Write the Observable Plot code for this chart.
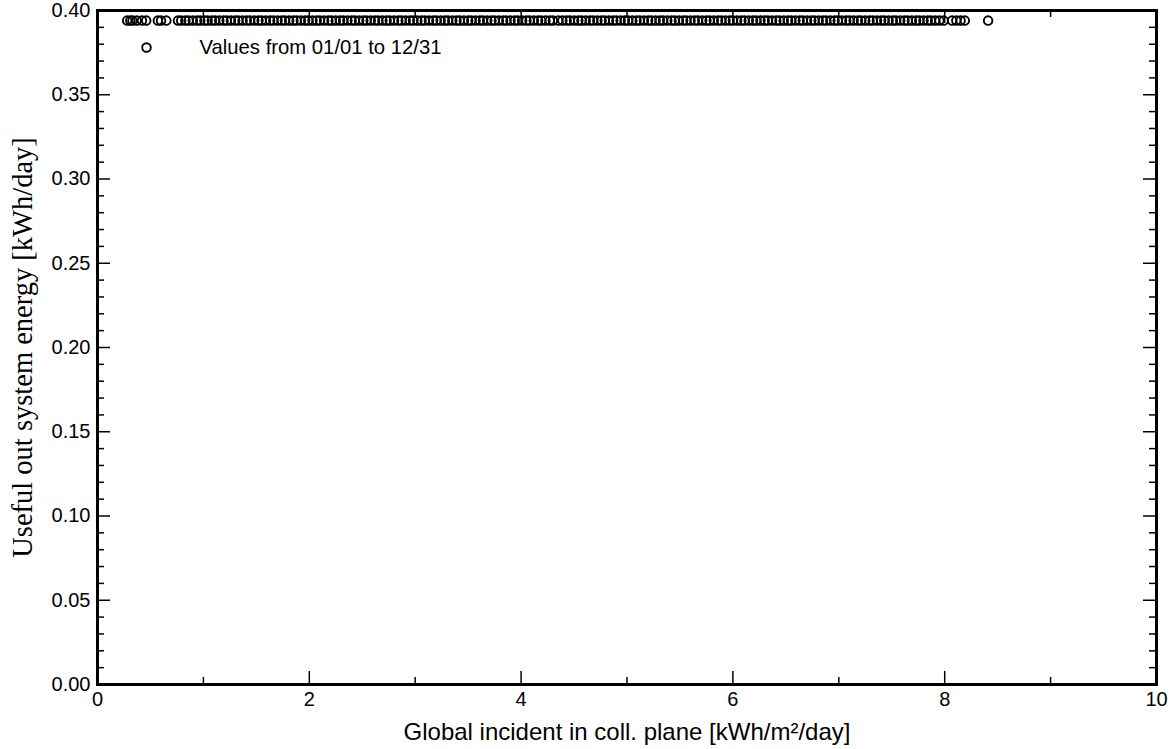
<!DOCTYPE html>
<html>
<head>
<meta charset="utf-8">
<script src="https://cdn.jsdelivr.net/npm/d3@7"></script>
<script src="https://cdn.jsdelivr.net/npm/@observablehq/plot@0.6"></script>
<style>
  html, body { margin: 0; padding: 0; background: #fff; }
  #chart svg { display: block; }
</style>
</head>
<body>
<div id="chart"></div>
<script>
// ---- data ----
const globalIncident = [
  0.28, 0.31, 0.33, 0.37, 0.42, 0.46, 0.57, 0.60, 0.65,
  0.76, 0.79, 0.83, 0.86, 0.90, 0.94, 0.97, 1.01, 1.04, 1.08, 1.11, 1.15, 1.19, 1.22, 1.26, 1.30,
  1.33, 1.37, 1.41, 1.44, 1.48, 1.52, 1.55, 1.59, 1.63, 1.66, 1.70, 1.74, 1.77, 1.81, 1.85, 1.88,
  1.92, 1.96, 1.99, 2.03, 2.07, 2.10, 2.14, 2.18, 2.21, 2.25, 2.29, 2.32, 2.36, 2.40, 2.43, 2.47,
  2.51, 2.54, 2.58, 2.62, 2.65, 2.69, 2.73, 2.76, 2.80, 2.84, 2.87, 2.91, 2.95, 2.98, 3.02, 3.06,
  3.09, 3.13, 3.17, 3.20, 3.24, 3.28, 3.31, 3.35, 3.39, 3.42, 3.46, 3.50, 3.53, 3.57, 3.61, 3.64,
  3.68, 3.72, 3.75, 3.79, 3.83, 3.86, 3.90, 3.94, 3.97, 4.01, 4.05, 4.08, 4.12, 4.16, 4.19, 4.23,
  4.27, 4.30, 4.35,
  4.39, 4.43, 4.46, 4.50, 4.54, 4.57, 4.61, 4.65, 4.68, 4.72, 4.76, 4.79, 4.83, 4.87, 4.90, 4.94,
  4.98, 5.01, 5.05, 5.09, 5.12, 5.16, 5.20, 5.23, 5.27, 5.31, 5.34, 5.38, 5.42, 5.45, 5.49, 5.53,
  5.56, 5.60, 5.64, 5.67, 5.71, 5.75, 5.78, 5.82, 5.86, 5.89, 5.93, 5.97, 6.00, 6.04, 6.08, 6.11,
  6.15, 6.19, 6.22, 6.26, 6.30, 6.33, 6.37, 6.41, 6.44, 6.48, 6.52, 6.55, 6.59, 6.63, 6.66, 6.70,
  6.74, 6.77, 6.81, 6.85, 6.88, 6.92, 6.96, 6.99, 7.03, 7.07, 7.10, 7.14, 7.18, 7.21, 7.25, 7.29,
  7.32, 7.36, 7.40, 7.43, 7.47, 7.51, 7.54, 7.58, 7.62, 7.65, 7.69, 7.73, 7.76, 7.80, 7.84, 7.87,
  7.91, 7.95, 7.99,
  8.07, 8.11, 8.15, 8.19,
  8.41
];
const usefulEnergy = globalIncident.map(() => 0.394);

const xMajorTicks = [0, 2, 4, 6, 8, 10];
const xMinorTicks = [1, 3, 5, 7, 9];
const yMajorTicks = [0, 0.05, 0.10, 0.15, 0.20, 0.25, 0.30, 0.35, 0.40];
const yMinorTicks = d3.range(1, 40).filter(i => i % 5 !== 0).map(i => i / 100);

const xLabel = "Global incident in coll. plane [kWh/m²/day]";
const yLabel = "Useful out system energy [kWh/day]";
const legendLabel = "Values from 01/01 to 12/31";

const points = globalIncident.map((x, i) => ({x, y: usefulEnergy[i]}));

const sans = "'Liberation Sans', Arial, sans-serif";
const serif = "'Liberation Serif', 'Times New Roman', serif";

const W = 1176, H = 749, mL = 97, mR = 20, mT = 10, mB = 65;
const fw = W - mL - mR, fh = H - mT - mB;
const majLen = 13, minLen = 7;
const tickStyle = {stroke: "black", strokeWidth: 1.5};

const chart = Plot.plot({
  width: W,
  height: H,
  marginLeft: mL,
  marginRight: mR,
  marginTop: mT,
  marginBottom: mB,
  style: {fontFamily: sans, background: "#fff", color: "#000"},
  x: {domain: [0, 10]},
  y: {domain: [0, 0.4]},
  marks: [
    // inward ticks: bottom / top
    Plot.tickX(xMajorTicks, {x: d => d, insetTop: fh - majLen, ...tickStyle}),
    Plot.tickX(xMinorTicks, {x: d => d, insetTop: fh - minLen, ...tickStyle}),
    Plot.tickX(xMajorTicks, {x: d => d, insetBottom: fh - majLen, ...tickStyle}),
    Plot.tickX(xMinorTicks, {x: d => d, insetBottom: fh - minLen, ...tickStyle}),
    // left / right
    Plot.tickY(yMajorTicks, {y: d => d, insetRight: fw - majLen, ...tickStyle}),
    Plot.tickY(yMinorTicks, {y: d => d, insetRight: fw - minLen, ...tickStyle}),
    Plot.tickY(yMajorTicks, {y: d => d, insetLeft: fw - majLen, ...tickStyle}),
    Plot.tickY(yMinorTicks, {y: d => d, insetLeft: fw - minLen, ...tickStyle}),
    // tick labels
    Plot.axisX({ticks: xMajorTicks, tickSize: 0, tickPadding: 7, tickFormat: d => String(d), fontSize: 20, label: null}),
    Plot.axisY({ticks: yMajorTicks, tickSize: 0, tickPadding: 7, tickFormat: d => d.toFixed(2), fontSize: 20, label: null}),
    // axis titles
    Plot.text([xLabel], {text: d => d, frameAnchor: "bottom", dy: 48, lineAnchor: "middle", textAnchor: "middle", fontSize: 24, fill: "black"}),
    Plot.text([yLabel], {text: d => d, frameAnchor: "left", dx: -75, rotate: -90, textAnchor: "middle", lineAnchor: "middle", fontSize: 28.5, fontFamily: serif, fill: "black"}),
    // data points
    Plot.dot(points, {x: "x", y: "y", r: 4.3, stroke: "black", strokeWidth: 1.9, fill: "none"}),
    // legend
    Plot.dot([legendLabel], {frameAnchor: "top-left", dx: 49, dy: 37, r: 4.3, stroke: "black", strokeWidth: 1.9, fill: "none"}),
    Plot.text([legendLabel], {text: d => d, frameAnchor: "top-left", dx: 102, dy: 37, textAnchor: "start", lineAnchor: "middle", fontSize: 20.3, fill: "black"}),
    // frame
    Plot.frame({stroke: "black", strokeWidth: 3})
  ]
});

document.getElementById("chart").appendChild(chart);
</script>
</body>
</html>
